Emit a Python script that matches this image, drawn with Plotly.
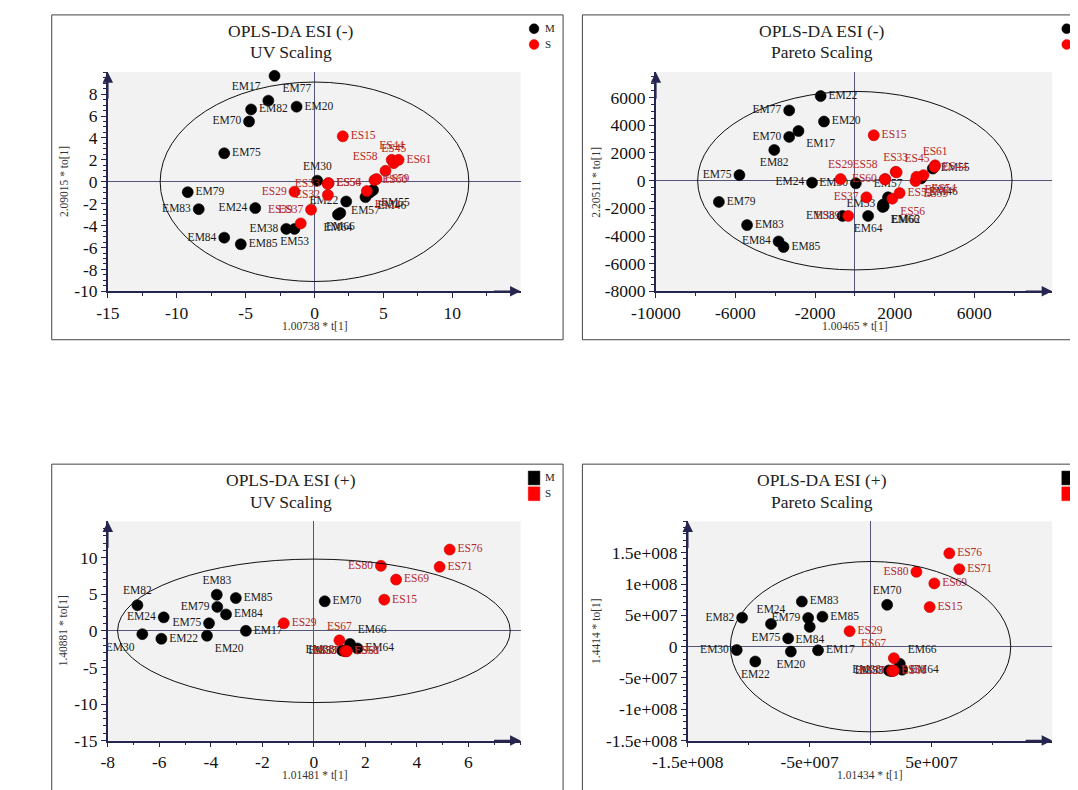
import plotly.graph_objects as go

W, H = 1078, 790
SERIF = "Liberation Serif"
NAVY = "#25254f"
ZERO = "#55557a"
M_COLOR = "#000000"
S_COLOR = "#ff0000"
M_TEXT = "#1a1a1a"
S_TEXT = "#b42828"

# ---------------- Panel 1: OPLS-DA ESI (-), UV scaling ----------------
p1_M_names = ["EM77", "EM17", "EM82", "EM20", "EM70", "EM75", "EM79", "EM83", "EM24", "EM84",
              "EM85", "EM38", "EM53", "EM30", "EM22", "EM64", "EM66", "EM57", "EM55", "EM46"]
p1_M_x = [-2.9, -3.35, -4.6, -1.3, -4.75, -6.55, -9.2, -8.4, -4.3, -6.55,
          -5.35, -2.05, -1.45, 0.2, 2.3, 1.7, 1.87, 3.7, 4.25, 4.0]
p1_M_y = [9.67, 7.4, 6.6, 6.85, 5.5, 2.6, -0.95, -2.5, -2.4, -5.1,
          -5.7, -4.3, -4.3, 0.1, -1.8, -3.0, -2.85, -1.4, -0.75, -1.0]
p1_M_pos = ["bottom right", "top left", "middle right", "middle right", "middle left", "middle right",
            "middle right", "middle left", "middle left", "middle left", "middle right", "middle left",
            "bottom center", "top center", "middle left", "bottom center", "bottom center",
            "bottom center", "bottom right", "bottom right"]
p1_S_names = ["ES15", "ES44", "ES45", "ES61", "ES58", "ES60", "ES59", "ES56", "ES54", "ES33",
              "ES32", "ES29", "ES37", "ES39", "ES52"]
p1_S_x = [2.05, 5.6, 5.75, 6.1, 5.15, 4.35, 4.5, 1.0, 1.02, 0.95, 0.97, -1.45, -0.25, -1.0, 3.8]
p1_S_y = [4.15, 2.0, 1.7, 2.0, 1.0, 0.15, 0.25, -0.15, -0.12, -0.2, -1.2, -0.9, -2.55, -3.8, -0.85]
p1_S_pos = ["middle right", "top center", "top center", "middle right", "top left", "middle right",
            "middle right", "middle right", "middle right", "middle left", "middle left", "middle left",
            "middle left", "top left", "bottom right"]
p1_ellipse = (11.2, 9.1)
p1_xrange, p1_yrange = [-15, 14.95], [-10, 10]
p1_xticks = [-15, -10, -5, 0, 5, 10]
p1_yticks = [-10, -8, -6, -4, -2, 0, 2, 4, 6, 8]
p1_minor = (2.5, 0.5)

# ---------------- Panel 2: OPLS-DA ESI (-), Pareto scaling ----------------
p2_M_names = ["EM22", "EM77", "EM20", "EM17", "EM70", "EM82", "EM75", "EM24", "EM30", "EM79",
              "EM83", "EM84", "EM85", "EM38", "EM64", "EM53", "EM57", "EM66", "EM62", "EM55", "EM46"]
p2_M_x = [-1717, -3300, -1550, -2833, -3300, -4050, -5800, -2150, 50, -6833,
          -5417, -3833, -3583, -617, 667, 1417, 1667, 1400, 1450, 3917, 3333]
p2_M_y = [6116, 5077, 4274, 3589, 3164, 2220, 401, -142, -189, -1535,
          -3211, -4392, -4793, -2550, -2550, -1724, -1204, -1900, -1850, 874, 165]
p2_M_pos = ["middle right", "middle left", "middle right", "bottom right", "middle left", "bottom center",
            "middle left", "middle left", "middle left", "middle right", "middle right", "middle left",
            "middle right", "middle left", "bottom center", "middle left", "top center", "bottom right",
            "bottom right", "middle right", "bottom right"]
p2_S_names = ["ES15", "ES61", "ES44", "ES33", "ES45", "ES58", "ES60", "ES29", "ES37", "ES39",
              "ES54", "ES59", "ES32", "ES56", "ES52"]
p2_S_x = [950, 4033, 4000, 2050, 2100, 1533, 1500, -717, 583, -333, 3450, 3050, 3100, 1883, 2250]
p2_S_y = [3282, 1110, 990, 638, 600, 118, 100, 118, -1204, -2550, 400, -24, 280, -1300, -897]
p2_S_pos = ["middle right", "top center", "middle right", "top center", "top right", "top left",
            "middle left", "top center", "middle left", "middle left", "bottom right", "bottom right",
            "bottom right", "bottom right", "middle right"]
p2_ellipse = (7900, 6450)
p2_xrange, p2_yrange = [-10000, 9917], [-8000, 7840]
p2_xticks = [-10000, -6000, -2000, 2000, 6000]
p2_yticks = [-8000, -6000, -4000, -2000, 0, 2000, 4000, 6000]
p2_minor = (2000, 500)

# ---------------- Panel 3: OPLS-DA ESI (+), UV scaling ----------------
p3_M_names = ["EM82", "EM24", "EM30", "EM22", "EM83", "EM85", "EM79", "EM84", "EM75", "EM20",
              "EM17", "EM70", "EM66", "EM64", "EM38", "EM53"]
p3_M_x = [-6.85, -5.83, -6.66, -5.92, -3.77, -3.03, -3.75, -3.41, -4.07, -4.15,
          -2.64, 0.42, 1.4, 1.69, 1.1, 1.2]
p3_M_y = [3.5, 1.84, -0.45, -1.08, 4.93, 4.48, 3.27, 2.24, 1.03, -0.67,
          0.0, 4.04, -1.79, -2.4, -2.69, -2.75]
p3_M_pos = ["top center", "middle left", "bottom left", "middle right", "top center", "middle right",
            "middle left", "middle right", "middle left", "bottom right", "middle right", "middle right",
            "top right", "middle right", "middle left", "middle left"]
p3_S_names = ["ES76", "ES71", "ES80", "ES69", "ES15", "ES29", "ES67", "ES33", "ES37", "ES58", "ES61"]
p3_S_x = [5.27, 4.88, 2.6, 3.19, 2.73, -1.17, 0.99, 1.2, 1.25, 1.25, 1.28]
p3_S_y = [11.1, 8.74, 8.88, 7.0, 4.26, 1.03, -1.3, -2.78, -2.8, -2.76, -2.78]
p3_S_pos = ["middle right", "middle right", "middle left", "middle right", "middle right", "middle right",
            "top center", "middle left", "middle left", "middle right", "middle right"]
p3_ellipse = (7.62, 9.8)
p3_xrange, p3_yrange = [-8, 8.02], [-15, 14.95]
p3_xticks = [-8, -6, -4, -2, 0, 2, 4, 6]
p3_yticks = [-15, -10, -5, 0, 5, 10]
p3_minor = (1, 1)

# ---------------- Panel 4: OPLS-DA ESI (+), Pareto scaling ----------------
p4_M_names = ["EM82", "EM30", "EM22", "EM24", "EM75", "EM20", "EM79", "EM84", "EM83", "EM85",
              "EM17", "EM70", "EM66", "EM64", "EM38", "EM53"]
p4_M_x = [-105.4e6, -109.8e6, -94.6e6, -81.7e6, -67.6e6, -65.4e6, -51.2e6, -49.9e6, -56.4e6, -39.5e6,
          -43.1e6, 13.6e6, 24.0e6, 25.9e6, 15.0e6, 17.0e6]
p4_M_y = [46.3e6, -5.3e6, -23.7e6, 36.3e6, 13.2e6, -7.9e6, 45.8e6, 31.6e6, 72.1e6, 47.9e6,
          -5.8e6, 66.8e6, -27.4e6, -36.8e6, -38.0e6, -39.0e6]
p4_M_pos = ["middle left", "middle left", "bottom center", "top center", "middle left", "bottom center",
            "middle left", "bottom center", "middle right", "middle right", "middle right", "top center",
            "top right", "middle right", "middle left", "middle left"]
p4_S_names = ["ES76", "ES71", "ES80", "ES69", "ES15", "ES29", "ES67", "ES33", "ES37", "ES58", "ES61"]
p4_S_x = [64.6e6, 72.8e6, 37.6e6, 52.3e6, 48.5e6, -17.2e6, 19.1e6, 17.5e6, 18.0e6, 18.5e6, 19.0e6]
p4_S_y = [149e6, 123.7e6, 119.5e6, 101e6, 63.2e6, 24.7e6, -18.4e6, -38.5e6, -38.5e6, -38.0e6, -38.5e6]
p4_S_pos = ["middle right", "middle right", "middle left", "middle right", "middle right", "middle right",
            "top left", "middle left", "middle left", "middle right", "middle right"]
p4_ellipse = (1.15e8, 1.36e8)
p4_xrange, p4_yrange = [-1.5e8, 1.49e8], [-1.5e8, 2.0e8]
p4_xticks = [-1.5e8, -5e7, 5e7]
p4_xticktext = ["-1.5e+008", "-5e+007", "5e+007"]
p4_yticks = [-1.5e8, -1e8, -5e7, 0, 5e7, 1e8, 1.5e8]
p4_yticktext = ["-1.5e+008", "-1e+008", "-5e+007", "0", "5e+007", "1e+008", "1.5e+008"]
p4_minor = (5e7, 1e7)

titles = ["OPLS-DA ESI (-)", "OPLS-DA ESI (-)", "OPLS-DA ESI (+)", "OPLS-DA ESI (+)"]
subtitles = ["UV Scaling", "Pareto Scaling", "UV Scaling", "Pareto Scaling"]
xtitles = ["1.00738 * t[1]", "1.00465 * t[1]", "1.01481 * t[1]", "1.01434 * t[1]"]
ytitles = ["2.09015 * to[1]", "2.20511 * to[1]", "1.40881 * to[1]", "1.4414 * to[1]"]
legend_symbols = ["circle", "circle", "square", "square"]

# ---------------- layout geometry (pixels) ----------------
# plot area boxes: (left, right, top, bottom) in pixels
boxes = [(66, 493, 65, 287), (633, 1043, 65, 287), (66, 493, 520, 742), (666, 1043, 520, 742)]
frames = [(8, 537, 7, 336), (557, 1090, 7, 336), (8, 537, 462, 800), (557, 1090, 462, 800)]
title_cx = [256, 805, 256, 805]
title_y0 = [23, 23, 478, 478]
ytitle_x = [20, 571, 20, 571]
legend_x = [507, 1058, 507, 1059]

def px(x):
    return x / W

def py(y):
    return 1 - y / H

panels = [
    (p1_M_names, p1_M_x, p1_M_y, p1_M_pos, p1_S_names, p1_S_x, p1_S_y, p1_S_pos, p1_ellipse,
     p1_xrange, p1_yrange, p1_xticks, [str(v) for v in p1_xticks], p1_yticks, [str(v) for v in p1_yticks], p1_minor),
    (p2_M_names, p2_M_x, p2_M_y, p2_M_pos, p2_S_names, p2_S_x, p2_S_y, p2_S_pos, p2_ellipse,
     p2_xrange, p2_yrange, p2_xticks, [str(v) for v in p2_xticks], p2_yticks, [str(v) for v in p2_yticks], p2_minor),
    (p3_M_names, p3_M_x, p3_M_y, p3_M_pos, p3_S_names, p3_S_x, p3_S_y, p3_S_pos, p3_ellipse,
     p3_xrange, p3_yrange, p3_xticks, [str(v) for v in p3_xticks], p3_yticks, [str(v) for v in p3_yticks], p3_minor),
    (p4_M_names, p4_M_x, p4_M_y, p4_M_pos, p4_S_names, p4_S_x, p4_S_y, p4_S_pos, p4_ellipse,
     p4_xrange, p4_yrange, p4_xticks, p4_xticktext, p4_yticks, p4_yticktext, p4_minor),
]

fig = go.Figure()
shapes, annotations = [], []
layout_axes = {}

for i, (mn, mx, my, mp, sn, sx, sy, sp, ell, xr, yr, xt, xtt, yt, ytt, minor) in enumerate(panels):
    k = "" if i == 0 else str(i + 1)
    xa, ya = "x" + k, "y" + k
    l, r, t, b = boxes[i]

    for names, xs, ys, pos, col, tcol, lcol in [
        (mn, mx, my, mp, M_COLOR, M_TEXT, "#000000"),
        (sn, sx, sy, sp, S_COLOR, S_TEXT, "#c00000"),
    ]:
        fig.add_trace(go.Scatter(
            x=xs, y=ys, text=names, mode="markers+text", textposition=pos,
            marker=dict(size=11, color=col, line=dict(color=lcol, width=0.6)),
            textfont=dict(family=SERIF, size=11.5, color=tcol),
            cliponaxis=False, showlegend=False, xaxis=xa, yaxis=ya, hoverinfo="text",
        ))

    axis_common = dict(
        showgrid=False, showline=True, linecolor=NAVY, linewidth=1.5,
        ticks="outside", ticklen=5, tickcolor=NAVY, tickwidth=1,
        zeroline=True, zerolinecolor=ZERO, zerolinewidth=1,
        tickfont=dict(family=SERIF, size=17.5, color="#111111"),
        tickmode="array", fixedrange=True,
    )
    layout_axes["xaxis" + k] = dict(
        axis_common, domain=[px(l), px(r)], range=xr, tickvals=xt, ticktext=xtt, anchor=ya,
        minor=dict(tickmode="linear", tick0=xr[0], dtick=minor[0], ticks="outside",
                   ticklen=3, tickcolor=NAVY),
    )
    layout_axes["yaxis" + k] = dict(
        axis_common, domain=[py(b), py(t)], range=yr, tickvals=yt, ticktext=ytt, anchor=xa,
        minor=dict(tickmode="linear", tick0=yr[0], dtick=minor[1], ticks="outside",
                   ticklen=3, tickcolor=NAVY),
    )

    # Hotelling T2 ellipse
    a, bb = ell
    shapes.append(dict(type="circle", xref=xa, yref=ya, x0=-a, x1=a, y0=-bb, y1=bb,
                       line=dict(color="#111111", width=1), layer="above"))
    # panel frame
    fl, fr, ft, fb = frames[i]
    shapes.append(dict(type="rect", xref="paper", yref="paper", x0=px(fl), x1=px(fr),
                       y0=py(fb), y1=py(ft), line=dict(color="#444444", width=1)))

    # axis arrows
    annotations.append(dict(x=xr[1], y=yr[0], xref=xa, yref=ya, ax=-28, ay=0, text="",
                            showarrow=True, arrowhead=2, arrowsize=1.4, arrowwidth=1.5,
                            arrowcolor=NAVY))
    annotations.append(dict(x=xr[0], y=yr[1], xref=xa, yref=ya, ax=0, ay=28, text="",
                            showarrow=True, arrowhead=2, arrowsize=1.4, arrowwidth=1.5,
                            arrowcolor=NAVY))

    # titles
    annotations.append(dict(x=px(title_cx[i]), y=py(title_y0[i]), xref="paper", yref="paper",
                            text=titles[i], showarrow=False, xanchor="center", yanchor="middle",
                            font=dict(family=SERIF, size=17.5, color="#222222")))
    annotations.append(dict(x=px(title_cx[i]), y=py(title_y0[i] + 22), xref="paper", yref="paper",
                            text=subtitles[i], showarrow=False, xanchor="center", yanchor="middle",
                            font=dict(family=SERIF, size=17.5, color="#222222")))
    # axis titles
    annotations.append(dict(x=px((l + r) / 2), y=py(b + 35), xref="paper", yref="paper",
                            text=xtitles[i], showarrow=False, xanchor="center", yanchor="middle",
                            font=dict(family=SERIF, size=11.5, color="#333333")))
    annotations.append(dict(x=px(ytitle_x[i]), y=py((t + b) / 2), xref="paper", yref="paper",
                            text=ytitles[i], showarrow=False, textangle=-90,
                            xanchor="center", yanchor="middle",
                            font=dict(family=SERIF, size=11.5, color="#333333")))

    # legend (class key)
    lx = legend_x[i]
    ly0 = title_y0[i] - 2
    for j, (lab, col) in enumerate([("M", M_COLOR), ("S", S_COLOR)]):
        cy = ly0 + j * 16
        if legend_symbols[i] == "circle":
            shapes.append(dict(type="circle", xref="paper", yref="paper",
                               x0=px(lx - 5), x1=px(lx + 5), y0=py(cy + 5), y1=py(cy - 5),
                               fillcolor=col, line=dict(color=col, width=0.5)))
        else:
            shapes.append(dict(type="rect", xref="paper", yref="paper",
                               x0=px(lx - 6), x1=px(lx + 6), y0=py(cy + 7), y1=py(cy - 7),
                               fillcolor=col, line=dict(color=col, width=0.5)))
        annotations.append(dict(x=px(lx + 9), y=py(cy - 1), xref="paper", yref="paper",
                                text=lab, showarrow=False, xanchor="left", yanchor="middle",
                                font=dict(family=SERIF, size=11, color="#222222")))

fig.update_layout(
    width=W, height=H, autosize=False,
    margin=dict(l=0, r=0, t=0, b=0),
    paper_bgcolor="white", plot_bgcolor="#f2f2f2",
    font=dict(family=SERIF),
    shapes=shapes, annotations=annotations,
    **layout_axes,
)

fig.write_html("out.html")
